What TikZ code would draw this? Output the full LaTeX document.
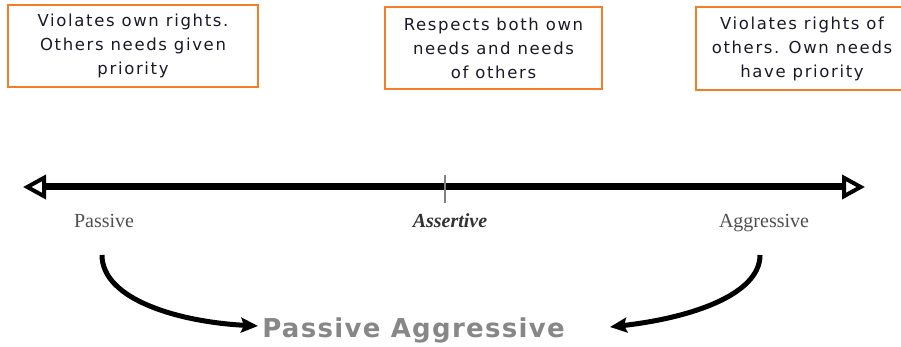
\documentclass[tikz,border=0pt]{standalone}
\usepackage{fontspec}
\setmainfont{Liberation Serif}
\newfontfamily\boxfont[LetterSpace=10]{DejaVu Sans}
\newfontfamily\pafont[LetterSpace=5]{DejaVu Sans}
\usetikzlibrary{arrows.meta}
\definecolor{boxorange}{RGB}{245,125,40}
\definecolor{boxtext}{RGB}{25,25,40}
\definecolor{pagray}{RGB}{135,135,135}
\definecolor{labgray}{RGB}{80,80,80}
\begin{document}
\begin{tikzpicture}[x=1pt,y=-1pt,
  infobox/.style={draw=boxorange, line width=2pt, inner sep=0pt, minimum height=82pt,
    font=\boxfont\fontsize{16.5}{24}\selectfont, align=center, text=boxtext},
  axis/.style={line width=7pt, black,
    {Triangle[open,length=23pt,width=24pt,line width=4pt]}-{Triangle[open,length=23pt,width=24pt,line width=4pt]}},
  axlabel/.style={font=\fontsize{20}{24}\selectfont, text=labgray, inner sep=0pt, anchor=base},
  curvearrow/.style={line width=5pt, -{Stealth[length=17pt,width=15pt,inset=3pt]}},
  tickline/.style={line width=1.2pt, gray}
]
\clip (0,0) rectangle (901,347);
\useasboundingbox (0,0) rectangle (901,347);

\node[infobox, minimum width=250pt] (b1) at (133,46) {Violates own rights.\\Others needs given\\priority};
\node[infobox, minimum width=217pt] (b2) at (493.5,48.5) {Respects both own\\needs and needs\\of others};
\node[infobox, minimum width=212pt, minimum height=83pt] (b3) at (802,49) {Violates rights of\\others. Own needs\\have priority};

\coordinate (L) at (23,187);
\coordinate (R) at (865,187);
\draw[axis] (L) -- (R);

\coordinate (T1) at (445,175);
\coordinate (T2) at (445,203);
\draw[tickline] (T1) -- (T2);

\node[axlabel] (pas) at (104,227) {Passive};
\node[axlabel, text=black!80] (ast) at (450,227) {\bfseries\itshape Assertive};
\node[axlabel] (agg) at (764,227) {Aggressive};

\node[font=\pafont\bfseries\fontsize{26}{30}\selectfont, text=pagray, inner sep=0pt, anchor=base] (pag) at (413.5,337) {Passive Aggressive};

\coordinate (s1) at (102,255);
\coordinate (e1) at (258,326);
\coordinate (s2) at (760,255);
\coordinate (e2) at (610,327);
\draw[curvearrow] (s1) .. controls (102,300) and (180,322) .. (e1);
\draw[curvearrow] (s2) .. controls (760,295) and (690,318) .. (e2);
\end{tikzpicture}
\end{document}
